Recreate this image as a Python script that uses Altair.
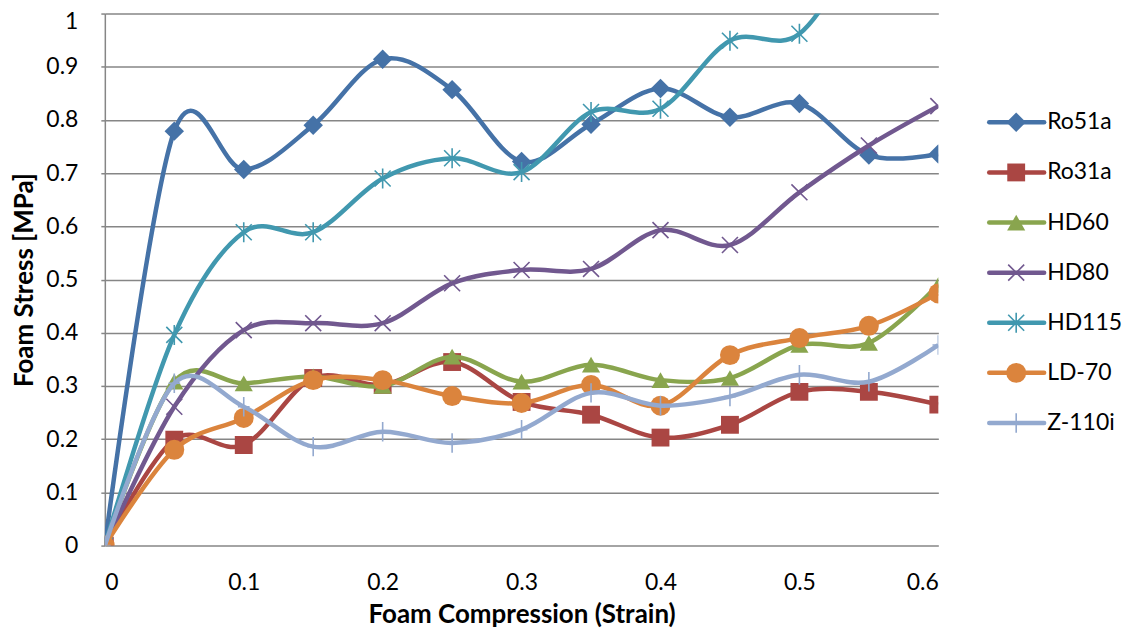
import altair as alt
import pandas as pd

strain = [0, 0.05, 0.1, 0.15, 0.2, 0.25, 0.3, 0.35, 0.4, 0.45, 0.5, 0.55, 0.6]
series = ["Ro51a", "Ro31a", "HD60", "HD80", "HD115", "LD-70", "Z-110i"]

ro51a = [0, 0.779, 0.707, 0.790, 0.914, 0.857, 0.722, 0.792, 0.859, 0.805, 0.831, 0.734, 0.736]
ro31a = [0, 0.199, 0.189, 0.315, 0.302, 0.345, 0.270, 0.246, 0.203, 0.227, 0.289, 0.289, 0.265]
hd60 = [0, 0.308, 0.305, 0.318, 0.300, 0.355, 0.308, 0.340, 0.311, 0.315, 0.377, 0.381, 0.490]
hd80 = [0, 0.261, 0.405, 0.418, 0.418, 0.493, 0.518, 0.520, 0.593, 0.565, 0.664, 0.752, 0.826]
hd115 = [0, 0.396, 0.589, 0.589, 0.690, 0.728, 0.702, 0.815, 0.821, 0.949, 0.962, 1.15, 1.30]
ld70 = [0, 0.180, 0.240, 0.311, 0.311, 0.281, 0.268, 0.302, 0.263, 0.358, 0.390, 0.413, 0.474]
z110i = [0, 0.305, 0.261, 0.186, 0.214, 0.193, 0.218, 0.287, 0.263, 0.280, 0.321, 0.308, 0.377]

values = [ro51a, ro31a, hd60, hd80, hd115, ld70, z110i]
colors = ["#4572A7", "#AA4643", "#89A54E", "#71588F", "#4198AF", "#DB843D", "#93A9CF"]

X_PATH = "M-0.8,-0.8L0.8,0.8M-0.8,0.8L0.8,-0.8"
AST_PATH = "M-0.8,-0.8L0.8,0.8M-0.8,0.8L0.8,-0.8M0,-1L0,1"
PLUS_PATH = "M0,-1L0,1M-0.6,0L0.6,0"
shapes = ["diamond", "square", "triangle-up", X_PATH, AST_PATH, "circle", PLUS_PATH]
filled = [True, True, True, False, False, True, False]
sizes = [380, 320, 330, 400, 400, 400, 380]

rows = []
for s, vals in zip(series, values):
    for x, y in zip(strain, vals):
        rows.append({"series": s, "strain": x, "stress": y})
df = pd.DataFrame(rows)

FONT = "Lato"
GRID = "#868686"

xenc = alt.X("strain:Q", scale=alt.Scale(domain=[0, 0.6], nice=False),
             axis=alt.Axis(values=[0, 0.1, 0.2, 0.3, 0.4, 0.5, 0.6], format="~g",
                           title="Foam Compression (Strain)", grid=False, ticks=False,
                           tickSize=0, domain=False, labelPadding=26, titlePadding=7))
yenc = alt.Y("stress:Q", scale=alt.Scale(domain=[0, 1], nice=False),
             axis=alt.Axis(values=[0, 0.1, 0.2, 0.3, 0.4, 0.5, 0.6, 0.7, 0.8, 0.9, 1.0],
                           format="~g", title="Foam Stress [MPa]", grid=True,
                           gridColor=GRID, gridWidth=1.5, domainColor=GRID, domainWidth=1.5,
                           tickColor=GRID, tickSize=4, tickWidth=1.5, labelPadding=23,
                           titlePadding=8,
                           labelOffset={"condition": {"test": "datum.value == 1", "value": 8},
                                        "value": 0}))

layers = []
for i, s in enumerate(series):
    base = alt.Chart(df).transform_filter(alt.datum.series == s)
    line = base.mark_line(interpolate="cardinal", color=colors[i], strokeWidth=4.5,
                          clip=True).encode(x=xenc, y=yenc)
    pts = base.mark_point(shape=shapes[i], filled=filled[i], size=sizes[i],
                          color=colors[i], opacity=1, strokeWidth=1.6,
                          clip=True).encode(x=xenc, y=yenc)
    layers += [line, pts]

main = alt.layer(*layers).properties(width=835, height=533)

leg_df = pd.DataFrame({"series": series, "idx": list(range(len(series)))})
legy = alt.Y("idx:Q", scale=alt.Scale(domain=[-2.171, 8.447], reverse=True, nice=False,
                                      zero=False), axis=None)
leg_layers = []
for i, s in enumerate(series):
    b = alt.Chart(leg_df).transform_filter(alt.datum.series == s)
    leg_layers.append(b.mark_rule(color=colors[i], strokeWidth=4.5, strokeCap="round").encode(
        x=alt.value(3), x2=alt.value(58), y=legy))
    leg_layers.append(b.mark_point(shape=shapes[i], filled=filled[i], size=sizes[i],
                                   color=colors[i], opacity=1, strokeWidth=1.6).encode(
        x=alt.value(30), y=legy))
    leg_layers.append(b.mark_text(align="left", baseline="middle", font=FONT, fontSize=23,
                                  color="black").encode(
        x=alt.value(61), y=legy, text="series:N"))
legend = alt.layer(*leg_layers).properties(width=118, height=533)

chart = alt.hconcat(main, legend, spacing=48).configure_view(stroke=None).configure_axis(
    labelFont=FONT, labelFontSize=23, labelColor="black",
    titleFont=FONT, titleFontSize=26, titleFontWeight="bold", titleColor="black"
).properties(background="white", padding={"left": 3, "top": 2, "right": 0, "bottom": 0})

chart.save("out.html", embed_options={"renderer": "svg", "actions": False})
